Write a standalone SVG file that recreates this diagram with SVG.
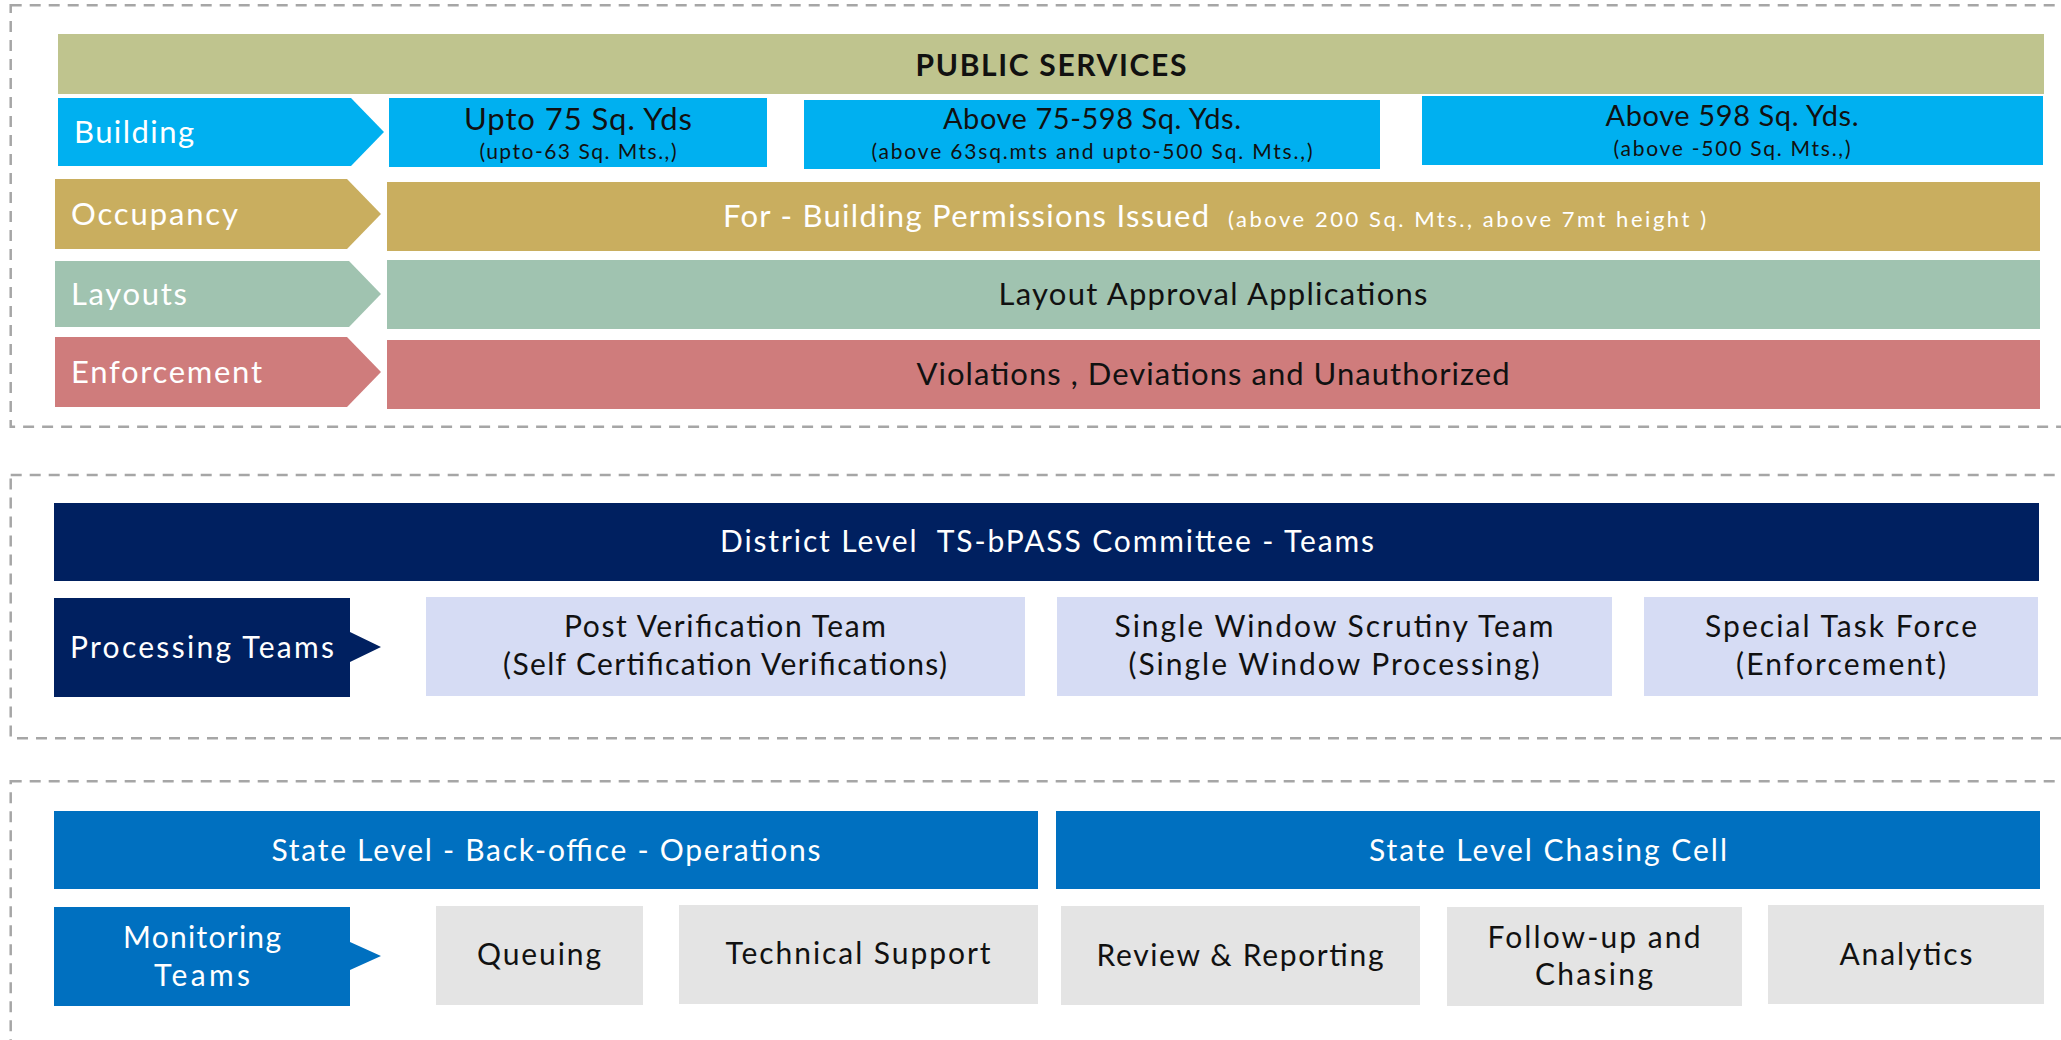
<svg xmlns="http://www.w3.org/2000/svg" width="2061" height="1040" viewBox="0 0 2061 1040">
<style>
  text { font-family: Lato, "Open Sans", "Liberation Sans", sans-serif; font-weight: 400; }
  .frame { fill: none; stroke: #A6A6A6; stroke-width: 2.5; stroke-dasharray: 11 8; }
  .w { fill: #FFFFFF; }
  .k { fill: #111111; }
  .c { text-anchor: middle; }
  .big { font-size: 30px; }
  .lg { font-size: 31px; }
  .small { font-size: 21px; }
  .olive { fill: #BFC48E; }
  .cyan { fill: #00B0F0; }
  .gold { fill: #C9AE5F; }
  .green { fill: #A0C3B0; }
  .red { fill: #CF7C7C; }
  .navy { fill: #002060; }
  .lav { fill: #D6DCF4; }
  .blue { fill: #0070C0; }
  .gray { fill: #E4E4E4; }
</style>
<rect width="2061" height="1040" fill="#FFFFFF"/>

<g id="frames">
  <rect class="frame" x="10.7" y="5.3" width="2100" height="421.4"/>
  <rect class="frame" x="10.7" y="475" width="2100" height="263.3"/>
  <rect class="frame" x="10.7" y="781.3" width="2100" height="400"/>
</g>

<g id="connectors"></g>

<!-- Section 1: Public services -->
<g id="public-services">
  <rect class="olive" x="58" y="34" width="1986" height="60"/>
  <text class="k c" x="1051" y="76" style="font-size:30px;font-weight:bold" textLength="271" lengthAdjust="spacing">PUBLIC SERVICES</text>
</g>

<g id="building-label">
  <polygon class="cyan" points="58,98 351,98 384,132 351,166 58,166"/>
  <text class="w lg" x="74" y="143" textLength="120" lengthAdjust="spacing">Building</text>
</g>
<g id="building-upto75">
  <rect class="cyan" x="389" y="98" width="378" height="69"/>
  <text class="k c lg" x="578" y="130" textLength="228" lengthAdjust="spacing">Upto 75 Sq. Yds</text>
  <text class="k c small" x="578" y="159" textLength="197" lengthAdjust="spacing">(upto-63 Sq. Mts.,)</text>
</g>
<g id="building-75-598">
  <rect class="cyan" x="804" y="100" width="576" height="69"/>
  <text class="k c" x="1092" y="129" style="font-size:29px" textLength="298" lengthAdjust="spacing">Above 75-598 Sq. Yds.</text>
  <text class="k c small" x="1092" y="159" textLength="441" lengthAdjust="spacing">(above 63sq.mts and upto-500 Sq. Mts.,)</text>
</g>
<g id="building-above598">
  <rect class="cyan" x="1422" y="96" width="621" height="69"/>
  <text class="k c" x="1732" y="126" style="font-size:29px" textLength="253" lengthAdjust="spacing">Above 598 Sq. Yds.</text>
  <text class="k c small" x="1732" y="156" textLength="237" lengthAdjust="spacing">(above -500 Sq. Mts.,)</text>
</g>

<g id="occupancy-label">
  <polygon class="gold" points="55,179 347,179 381,214 347,249 55,249"/>
  <text class="w lg" x="71" y="225" textLength="167" lengthAdjust="spacing">Occupancy</text>
</g>
<g id="occupancy-bar">
  <rect class="gold" x="387" y="182" width="1653" height="69"/>
  <text class="w lg" x="723" y="227" textLength="486" lengthAdjust="spacing">For - Building Permissions Issued</text>
  <text class="w" x="1228" y="227" style="font-size:22px" textLength="478" lengthAdjust="spacing">(above 200 Sq. Mts., above 7mt height )</text>
</g>

<g id="layouts-label">
  <polygon class="green" points="55,261 349,261 381,294 349,327 55,327"/>
  <text class="w lg" x="71" y="305" textLength="116" lengthAdjust="spacing">Layouts</text>
</g>
<g id="layouts-bar">
  <rect class="green" x="387" y="260" width="1653" height="69"/>
  <text class="k c lg" x="1213" y="305" textLength="429" lengthAdjust="spacing">Layout Approval Applications</text>
</g>

<g id="enforcement-label">
  <polygon class="red" points="55,337 347,337 381,372 347,407 55,407"/>
  <text class="w lg" x="71" y="383" textLength="191" lengthAdjust="spacing">Enforcement</text>
</g>
<g id="enforcement-bar">
  <rect class="red" x="387" y="340" width="1653" height="69"/>
  <text class="k c lg" x="1213" y="385" textLength="593" lengthAdjust="spacing">Violations , Deviations and Unauthorized</text>
</g>

<!-- Section 2: District level -->
<g id="district-committee">
  <rect class="navy" x="54" y="503" width="1985" height="78"/>
  <text class="w c big" x="1047" y="552" xml:space="preserve" textLength="654" lengthAdjust="spacing">District Level  TS-bPASS Committee - Teams</text>
</g>
<g id="processing-teams">
  <path class="navy" d="M54,598 H350 V632 L381,647 L350,662 V697 H54 Z"/>
  <text class="w c big" x="202" y="658" textLength="264" lengthAdjust="spacing">Processing Teams</text>
</g>
<g id="post-verification">
  <rect class="lav" x="426" y="597" width="599" height="99"/>
  <text class="k c big" x="725" y="637" textLength="322" lengthAdjust="spacing">Post Verification Team</text>
  <text class="k c big" x="725" y="675" textLength="444" lengthAdjust="spacing">(Self Certification Verifications)</text>
</g>
<g id="single-window">
  <rect class="lav" x="1057" y="597" width="555" height="99"/>
  <text class="k c big" x="1334" y="637" textLength="439" lengthAdjust="spacing">Single Window Scrutiny Team</text>
  <text class="k c big" x="1334" y="675" textLength="411" lengthAdjust="spacing">(Single Window Processing)</text>
</g>
<g id="special-task-force">
  <rect class="lav" x="1644" y="597" width="394" height="99"/>
  <text class="k c big" x="1841" y="637" textLength="272" lengthAdjust="spacing">Special Task Force</text>
  <text class="k c big" x="1841" y="675" textLength="210" lengthAdjust="spacing">(Enforcement)</text>
</g>

<!-- Section 3: State level -->
<g id="back-office">
  <rect class="blue" x="54" y="811" width="984" height="78"/>
  <text class="w c big" x="546" y="861" textLength="549" lengthAdjust="spacing">State Level - Back-office - Operations</text>
</g>
<g id="chasing-cell">
  <rect class="blue" x="1056" y="811" width="984" height="78"/>
  <text class="w c big" x="1548" y="861" textLength="358" lengthAdjust="spacing">State Level Chasing Cell</text>
</g>
<g id="monitoring-teams">
  <path class="blue" d="M54,907 H350 V942 L381,956 L350,970 V1006 H54 Z"/>
  <text class="w c big" x="202" y="948" textLength="158" lengthAdjust="spacing">Monitoring</text>
  <text class="w c big" x="202" y="986" textLength="96" lengthAdjust="spacing">Teams</text>
</g>
<g id="queuing">
  <rect class="gray" x="436" y="906" width="207" height="99"/>
  <text class="k c big" x="539" y="965" textLength="124" lengthAdjust="spacing">Queuing</text>
</g>
<g id="technical-support">
  <rect class="gray" x="679" y="905" width="359" height="99"/>
  <text class="k c big" x="858" y="964" textLength="265" lengthAdjust="spacing">Technical Support</text>
</g>
<g id="review-reporting">
  <rect class="gray" x="1061" y="906" width="359" height="99"/>
  <text class="k c big" x="1240" y="966" textLength="287" lengthAdjust="spacing">Review &amp; Reporting</text>
</g>
<g id="follow-up">
  <rect class="gray" x="1447" y="907" width="295" height="99"/>
  <text class="k c big" x="1594" y="948" textLength="213" lengthAdjust="spacing">Follow-up and</text>
  <text class="k c big" x="1594" y="985" textLength="118" lengthAdjust="spacing">Chasing</text>
</g>
<g id="analytics">
  <rect class="gray" x="1768" y="905" width="276" height="99"/>
  <text class="k c big" x="1906" y="965" textLength="133" lengthAdjust="spacing">Analytics</text>
</g>
</svg>
